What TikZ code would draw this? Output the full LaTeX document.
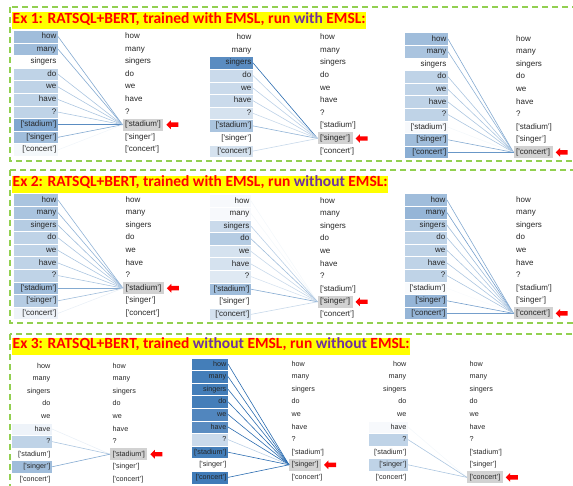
\documentclass[tikz,border=0pt]{standalone}
\usepackage{fontspec}
\setmainfont{Liberation Sans}
\newfontfamily\titlefont{Carlito}
\usetikzlibrary{positioning,shapes.arrows}
\definecolor{Attn}{HTML}{2B6CB0}
\definecolor{Hilite}{HTML}{D2D2D2}
\definecolor{Frame}{HTML}{92D050}
\definecolor{TitleRed}{HTML}{FF0000}
\definecolor{TitlePurple}{HTML}{7030A0}
\definecolor{Marker}{HTML}{FFFF00}
\tikzset{
  framebox/.style={draw=Frame,line width=1.5pt,dash pattern=on 6pt off 4pt},
  titlebox/.style={fill=Marker,anchor=north west,inner xsep=0.5pt,inner ysep=0.75pt,text height=10.5pt,text depth=5pt,font=\titlefont\bfseries\fontsize{15.5}{16}\selectfont,text=TitleRed},
  leftword/.style={draw=white,line width=0.4pt,anchor=east,align=right,minimum height=12.6pt,inner xsep=1.5pt,inner ysep=0pt,text height=6pt,text depth=1.8pt,text=black!85},
  rightword/.style={anchor=west,inner xsep=2.5pt,inner ysep=0pt,minimum height=12pt,text height=6pt,text depth=1.8pt,text=black!85},
  attnline/.style={line width=0.6pt},
  redarrow/.style={single arrow,fill=red,shape border rotate=180,minimum height=12pt,single arrow head extend=2.2pt,inner xsep=0pt,inner ysep=2pt,text height=0pt,text depth=0pt}
}
\newcommand\tokword[1]{\ifcase#1\or how\or many\or singers\or do\or we\or have\or ?\or [\textquotesingle stadium’]\or [\textquotesingle singer’]\or [\textquotesingle concert’]\fi}
% #1 name, #2 box right x, #3 text width, #4 right column x, #5 first row y,
% #6 target row, #7 weights, #8 font size
\newcommand\attnpanel[8]{%
  \foreach \w [count=\i] in {#7} {
    \ifnum\i=#6 \def\rfill{Hilite}\else\def\rfill{none}\fi
    \node[leftword,fill=Attn!\w,text width=#3pt,font=\fontsize{#8}{#8}\selectfont] (#1l\i) at (#2,{#5+(\i-1)*12.6}) {\tokword{\i}};
    \node[rightword,fill=\rfill,font=\fontsize{#8}{#8}\selectfont] (#1r\i) at (#4,{#5+(\i-1)*12.6}) {\tokword{\i}};
  }
  \foreach \w [count=\i] in {#7} {
    \pgfmathtruncatemacro\lw{min(100,1.3*\w)}
    \ifnum\w>0 \draw[attnline,draw=Attn!\lw] (#1l\i.east) -- (#1r#6.west);\fi
  }
  \node[redarrow,right=2.5pt of #1r#6] (#1a) {};
}

\begin{document}
\begin{tikzpicture}[x=1pt,y=-1pt]
  \useasboundingbox (0,0) rectangle (573,486);
  % frames
  \draw[framebox] (10,7) rectangle (580,161);
  \draw[framebox] (10,170) rectangle (580,323);
  \draw[framebox] (10,334) rectangle (580,495);
  % titles
  \node[titlebox] (t1) at (12,12.3) {Ex 1: RATSQL+BERT, trained with EMSL, run \textcolor{TitlePurple}{with} EMSL:};
  \node[titlebox] (t2) at (12,175.5) {Ex 2: RATSQL+BERT, trained with EMSL, run \textcolor{TitlePurple}{without} EMSL:};
  \node[titlebox] (t3) at (12,337.5) {Ex 3: RATSQL+BERT, trained \textcolor{TitlePurple}{without} EMSL, run \textcolor{TitlePurple}{without} EMSL:};
  % Ex 1
  \attnpanel{ea}{58}{42}{122.5}{36.5}{8}{45,45,0,30,30,30,30,60,45,5}{8}
  \attnpanel{eb}{253}{41}{317.5}{37.7}{9}{0,0,78,25,25,25,20,40,0,20}{8}
  \attnpanel{ec}{448}{41}{513.5}{39}{10}{45,40,0,30,30,30,30,4,45,55}{8}
  % Ex 2
  \attnpanel{fa}{58}{42}{123}{200}{8}{40,40,35,30,30,30,30,45,35,8}{8}
  \attnpanel{fb}{251}{39}{317.5}{201}{9}{4,4,25,35,20,20,15,45,0,20}{8}
  \attnpanel{fc}{447}{40}{513.5}{200}{10}{45,50,35,30,30,30,30,3,50,50}{8}
  % Ex 3
  \attnpanel{ga}{52}{38}{110}{366}{8}{0,0,0,0,0,8,30,0,45,0}{7.2}
  \attnpanel{gb}{228}{34}{289}{364}{9}{88,88,88,88,82,78,25,88,0,90}{7.2}
  \attnpanel{gc}{408}{37}{467}{364}{10}{0,0,0,0,0,4,30,0,30,0}{7.2}
\end{tikzpicture}
\end{document}
